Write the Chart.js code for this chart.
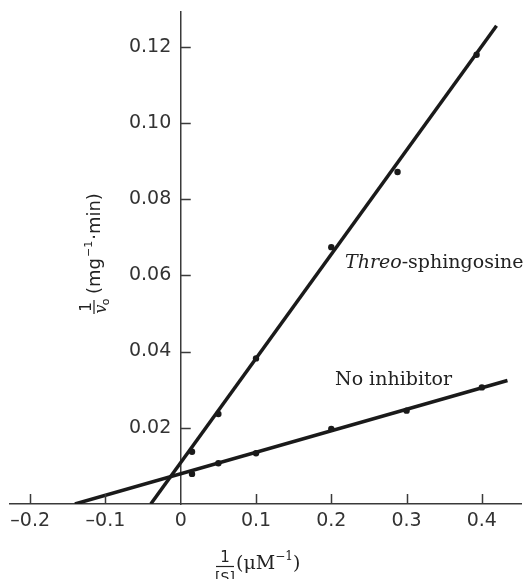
<!DOCTYPE html>
<html>
<head>
<meta charset="utf-8">
<script src="https://cdn.jsdelivr.net/npm/chart.js@4"></script>
<style>
  html, body { margin: 0; padding: 0; background: #fff; }
  #wrap { width: 525px; height: 579px; }
</style>
</head>
<body>
<div id="wrap"><canvas id="lbPlot" width="525" height="579"></canvas></div>
<script>
// values: 1/[S] (uM^-1) vs 1/v0 (mg^-1 min)
const noInhibX = [0.015, 0.05, 0.1, 0.2, 0.3, 0.4]
const noInhibY = [0.0079, 0.0107, 0.0133, 0.0197, 0.0245, 0.0306]
const threoX = [0.015, 0.05, 0.1, 0.2, 0.288, 0.393]
const threoY = [0.0137, 0.0236, 0.0382, 0.0674, 0.0871, 0.1179]

// fitted lines, endpoints as drawn
const noInhibLineX = [-0.1406, 0.434]
const noInhibLineY = [0, 0.0324]
const threoLineX = [-0.0398, 0.4195]
const threoLineY = [0, 0.1255]

const xTicks = [-0.2, -0.1, 0, 0.1, 0.2, 0.3, 0.4]
const yTicks = [0.02, 0.04, 0.06, 0.08, 0.10, 0.12]

const ink = "#1a1a1a"
const axisInk = "#3a3a3a"

const toPoints = (xs, ys) => xs.map((x, i) => { return { x: x, y: ys[i] } })

const lineSet = (xs, ys) => {
    return {
        data: toPoints(xs, ys),
        showLine: true,
        borderColor: ink,
        borderWidth: 3.5,
        pointRadius: 0,
        borderCapStyle: "butt"
    }
}

const dotSet = (xs, ys) => {
    return {
        data: toPoints(xs, ys),
        showLine: false,
        pointRadius: 3.2,
        pointBackgroundColor: ink,
        pointBorderWidth: 0
    }
}

const fmtX = (v) => {
    if (Math.abs(v) < 1e-9) return "0"
    return (v < 0 ? "\u2013" : "") + Math.abs(v).toFixed(1)
}

// keep tick labels from pushing the plot area in
const noLabelPadding = (scale) => {
    scale.paddingLeft = 0
    scale.paddingRight = 0
    scale.paddingTop = 0
    scale.paddingBottom = 0
}

// tick marks point into the plot, so draw them off the scales here
const innerTicks = {
    id: "innerTicks",
    afterDatasetsDraw(chart) {
        const { ctx, scales: { x, y } } = chart
        const x0 = x.getPixelForValue(0)
        const y0 = y.getPixelForValue(0)
        ctx.save()
        ctx.strokeStyle = axisInk
        ctx.lineWidth = 1.5
        ctx.beginPath()
        x.ticks.forEach((t) => {
            if (t.value === 0) return
            const px = Math.round(x.getPixelForValue(t.value)) + 0.5
            ctx.moveTo(px, y0)
            ctx.lineTo(px, y0 - 10)
        })
        y.ticks.forEach((t) => {
            const py = Math.round(y.getPixelForValue(t.value)) + 0.5
            ctx.moveTo(x0, py)
            ctx.lineTo(x0 + 10, py)
        })
        ctx.stroke()
        ctx.restore()
    }
}

// hand lettering: axis titles and curve labels
const lettering = {
    id: "lettering",
    afterDraw(chart) {
        const ctx = chart.ctx
        ctx.save()
        ctx.fillStyle = "#222"
        ctx.textBaseline = "alphabetic"

        // curve labels
        ctx.font = "italic 19px 'DejaVu Serif'"
        ctx.textAlign = "left"
        ctx.fillText("Threo", 345, 268)
        const w = ctx.measureText("Threo").width
        ctx.font = "19px 'DejaVu Serif'"
        ctx.fillText("-sphingosine", 345 + w, 268)
        ctx.fillText("No inhibitor", 335, 385)

        // y title, rotated
        ctx.save()
        ctx.translate(94, 307)
        ctx.rotate(-Math.PI / 2)
        ctx.strokeStyle = "#222"
        ctx.lineWidth = 1.2
        ctx.beginPath()
        ctx.moveTo(-7, 0)
        ctx.lineTo(7, 0)
        ctx.stroke()
        ctx.textAlign = "center"
        ctx.textBaseline = "alphabetic"
        ctx.font = "15px 'DejaVu Sans'"
        ctx.fillText("1", 0, -3)
        ctx.font = "italic 16px 'DejaVu Serif'"
        ctx.fillText("v", -2, 12)
        ctx.font = "11px 'DejaVu Sans'"
        ctx.fillText("o", 5, 15)
        ctx.textAlign = "left"
        ctx.textBaseline = "middle"
        let u = 13
        ctx.font = "18px 'DejaVu Sans'"
        ctx.fillText("(mg", u, 1)
        u += ctx.measureText("(mg").width
        ctx.font = "11px 'DejaVu Sans'"
        ctx.fillText("\u22121", u + 1, -5)
        u += ctx.measureText("\u22121").width + 2
        ctx.font = "18px 'DejaVu Sans'"
        ctx.fillText("\u00b7min)", u, 1)
        ctx.restore()

        // x title
        ctx.strokeStyle = "#222"
        ctx.lineWidth = 1.2
        ctx.beginPath()
        ctx.moveTo(216, 566.5)
        ctx.lineTo(234, 566.5)
        ctx.stroke()
        ctx.textAlign = "center"
        ctx.textBaseline = "alphabetic"
        ctx.font = "15px 'DejaVu Sans'"
        ctx.fillText("1", 225, 562)
        ctx.font = "14px 'DejaVu Sans'"
        ctx.fillText("[S]", 225, 582)
        ctx.textAlign = "left"
        ctx.font = "19px 'DejaVu Serif'"
        let xp = 236
        ctx.fillText("(\u03bcM", xp, 569)
        xp += ctx.measureText("(\u03bcM").width
        ctx.font = "12px 'DejaVu Serif'"
        ctx.fillText("\u22121", xp, 560)
        xp += ctx.measureText("\u22121").width
        ctx.font = "19px 'DejaVu Serif'"
        ctx.fillText(")", xp, 569)
        ctx.restore()
    }
}

const ctx = document.getElementById("lbPlot").getContext("2d")

const config = {
    type: "scatter",
    data: {
        datasets: [
            lineSet(noInhibLineX, noInhibLineY),
            lineSet(threoLineX, threoLineY),
            dotSet(noInhibX, noInhibY),
            dotSet(threoX, threoY)
        ]
    },
    options: {
        responsive: false,
        animation: false,
        layout: { padding: { left: 10, right: 3, top: 12, bottom: 75 } },
        plugins: {
            legend: { display: false },
            tooltip: { enabled: false }
        },
        scales: {
            x: {
                type: "linear",
                position: { y: 0 },
                min: -0.2268,
                max: 0.452,
                afterFit: noLabelPadding,
                afterBuildTicks: (scale) => { scale.ticks = xTicks.map((v) => { return { value: v } }) },
                grid: { drawOnChartArea: false, drawTicks: false },
                border: { display: true, color: axisInk, width: 1.5 },
                ticks: {
                    callback: (v) => fmtX(v),
                    padding: 6,
                    maxRotation: 0,
                    autoSkip: false,
                    color: "#333",
                    font: { family: "'DejaVu Sans'", size: 19 }
                }
            },
            y: {
                type: "linear",
                position: { x: 0 },
                min: 0,
                max: 0.1291,
                afterFit: noLabelPadding,
                afterBuildTicks: (scale) => { scale.ticks = yTicks.map((v) => { return { value: v } }) },
                grid: { drawOnChartArea: false, drawTicks: false },
                border: { display: true, color: axisInk, width: 1.5 },
                ticks: {
                    // labels of a value-positioned axis sit right on the line, so pad with an en space
                    callback: (v) => v.toFixed(2) + "\u2002",
                    autoSkip: false,
                    color: "#333",
                    font: { family: "'DejaVu Sans'", size: 19 }
                }
            }
        }
    },
    plugins: [innerTicks, lettering]
}

const lbChart = new Chart(ctx, config)
</script>
</body>
</html>
